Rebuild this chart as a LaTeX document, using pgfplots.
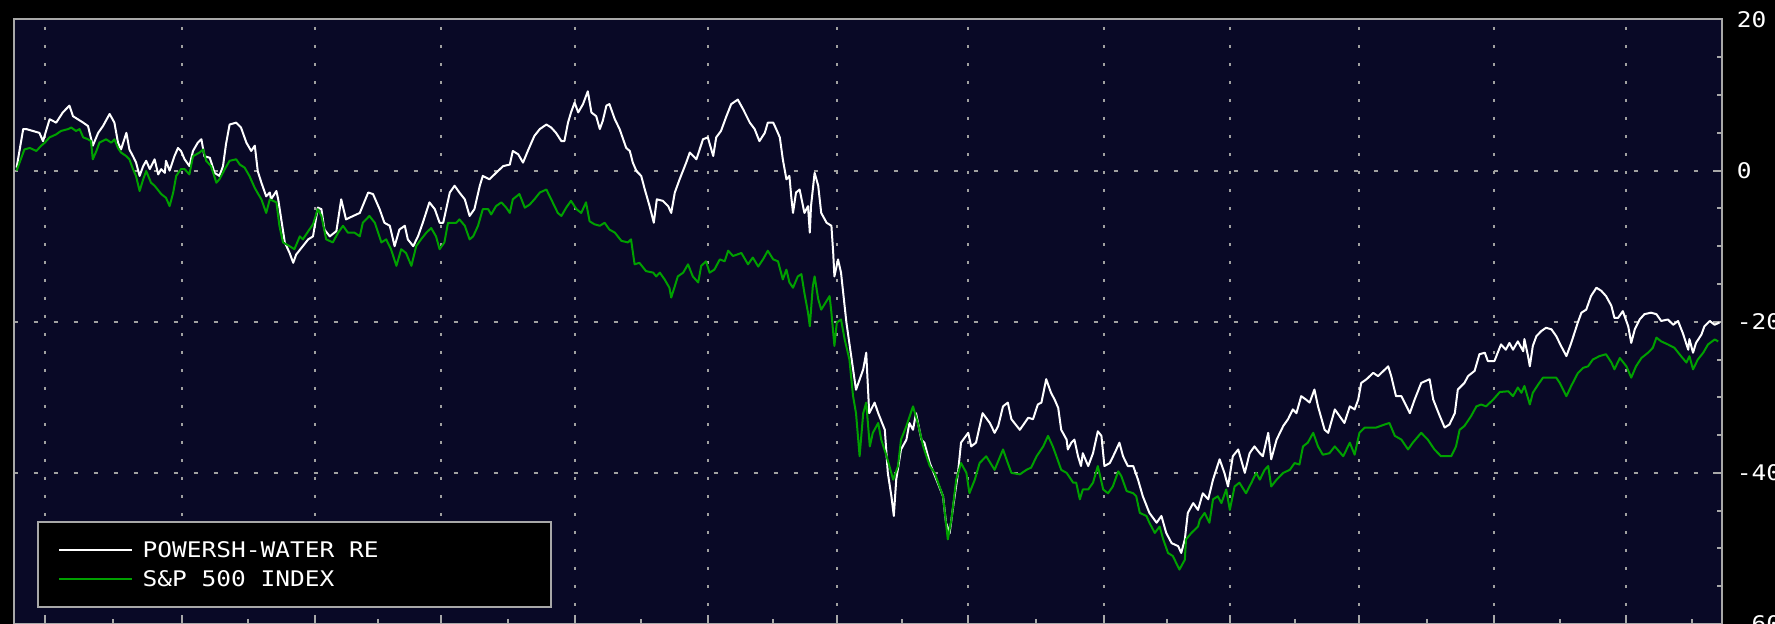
\documentclass[border=0pt]{standalone}
\usepackage{fontspec}
\usepackage{pgfplots}
\usepackage{pgfplotstable}
\pgfplotsset{compat=1.18}

\newfontfamily\chartfont[FakeStretch=1.14]{DejaVu Sans Mono}
\newcommand\cf{\chartfont\fontsize{10.75}{13}\selectfont}

\definecolor{navy}{RGB}{9,9,38}
\definecolor{gridgray}{RGB}{160,160,160}
\definecolor{framegray}{RGB}{168,168,168}
\definecolor{spxgreen}{RGB}{0,160,0}

% day = trading day from the start, value = % change
\pgfplotstableread{
day value
0 0.4
1.1 5.5
1.6 5.5
3.8 5.0
4.4 3.9
5.5 6.8
6.6 6.35
7.7 7.7
8.8 8.6
9.4 7.2
10.2 6.8
11.1 6.35
11.9 5.9
12.7 3.3
13.6 5.0
14.4 5.9
15.5 7.5
16.3 6.35
16.9 3.7
17.4 2.8
18.3 5.0
18.8 2.8
19.4 1.9
19.9 1.1
20.5 -0.7
21.1 0.6
21.6 1.3
22.2 0.2
23.0 1.5
23.6 -0.5
24.1 0.2
24.7 -0.3
24.9 1.3
25.5 0.0
26.3 1.9
26.9 3.0
27.4 2.6
28.0 1.5
28.8 0.6
29.4 2.6
30.2 3.7
30.8 4.15
31.3 1.9
32.2 1.7
33.0 -0.3
33.8 -0.7
34.4 0.6
34.9 3.5
35.5 6.1
36.6 6.35
37.4 5.7
38.3 3.7
39.1 2.6
39.7 3.3
40.2 -0.1
40.8 -1.6
41.6 -3.4
42.2 -2.9
42.4 -3.8
43.3 -2.7
43.6 -3.8
44.7 -9.5
45.5 -10.9
46.1 -12.2
46.6 -11.1
47.7 -10.0
48.6 -9.1
49.4 -8.7
50.2 -4.9
50.8 -5.1
51.3 -7.8
52.2 -8.7
53.3 -8.0
54.1 -3.8
54.9 -6.45
56.1 -6.0
57.2 -5.6
58.6 -2.9
59.4 -3.1
60.5 -5.1
61.3 -6.9
62.2 -7.3
63.0 -10.0
63.8 -7.8
64.7 -7.3
65.2 -9.1
66.1 -10.0
66.9 -8.7
67.7 -6.9
68.8 -4.2
69.7 -5.1
70.5 -6.9
71.1 -6.9
72.2 -2.9
73.0 -2.0
73.8 -2.9
74.7 -3.8
75.5 -6.0
76.3 -5.1
77.2 -2.0
77.7 -0.7
78.8 -1.15
79.9 -0.3
81.1 0.6
82.2 0.8
82.7 2.6
83.6 2.16
84.4 1.06
85.2 2.6
85.8 3.7
86.3 4.6
87.2 5.5
88.3 6.1
89.1 5.7
89.9 5.0
90.8 3.9
91.3 3.9
91.9 6.35
92.4 7.7
93.0 9.0
93.6 7.7
94.4 8.8
95.2 10.5
95.8 7.7
96.6 7.2
97.2 5.5
97.7 6.6
98.3 8.6
98.8 8.8
99.7 6.8
100.5 5.5
101.6 3.0
102.2 2.6
102.7 1.06
103.3 -0.05
104.1 -0.7
104.7 -2.5
105.5 -4.7
106.2 -6.9
106.7 -3.8
107.7 -4.0
108.6 -4.7
109.1 -5.6
109.7 -2.9
110.5 -1.15
111.6 1.06
112.2 2.4
113.3 1.5
114.4 4.15
115.2 4.4
116.1 1.94
116.6 4.4
117.4 5.25
118.3 7.2
119.1 8.8
120.2 9.4
121.1 8.1
122.2 6.35
123.0 5.5
123.8 3.9
124.7 5.0
125.2 6.35
126.1 6.35
126.6 5.5
127.2 4.4
127.7 1.5
128.3 -1.15
128.8 -0.7
129.1 -3.4
129.4 -5.6
129.9 -2.9
130.5 -2.5
131.3 -5.6
131.9 -4.7
132.2 -8.2
132.4 -4.7
133.0 -0.3
133.6 -2.0
134.1 -5.6
135.0 -6.9
135.8 -7.3
136.1 -10.9
136.3 -14.0
136.9 -11.75
137.4 -13.5
138.0 -17.9
138.3 -20.1
139.0 -24.0
139.9 -29.0
141.1 -26.3
141.6 -24.1
142.1 -32.1
143.0 -30.7
143.6 -32.1
144.7 -34.3
145.2 -40.0
145.8 -43.1
146.2 -45.7
146.6 -40.9
147.4 -36.9
148.3 -35.6
148.8 -33.4
149.4 -34.3
149.9 -32.1
150.8 -35.6
151.3 -36.0
152.2 -38.7
153.3 -40.9
154.4 -43.1
154.9 -46.6
155.5 -48.0
156.1 -44.4
156.9 -40.0
157.4 -36.0
158.6 -34.7
159.1 -36.5
159.9 -36.0
161.0 -32.1
162.2 -33.4
163.0 -34.7
163.6 -33.8
164.4 -31.2
165.2 -30.7
165.8 -32.9
167.2 -34.3
168.0 -33.4
168.6 -32.7
169.4 -32.9
170.2 -30.95
170.8 -30.7
171.6 -27.6
172.4 -29.4
173.0 -30.3
173.6 -31.4
174.1 -34.3
175.0 -35.6
175.2 -36.9
175.8 -36.0
176.3 -35.6
176.9 -37.8
177.4 -39.1
177.7 -37.4
178.6 -39.1
179.4 -37.4
180.2 -34.5
180.8 -35.1
181.3 -39.1
182.2 -38.7
183.0 -37.4
183.8 -36.0
184.4 -37.8
185.2 -39.1
186.1 -39.1
186.9 -40.9
187.7 -43.1
188.8 -45.3
190.0 -46.6
190.8 -45.7
191.6 -47.95
192.5 -49.3
193.6 -49.7
194.1 -50.6
194.7 -48.8
195.2 -45.3
196.1 -44.0
196.9 -44.9
197.7 -42.7
198.6 -43.5
199.4 -40.9
200.5 -38.2
201.3 -40.0
201.9 -41.8
202.7 -37.8
203.6 -36.9
204.7 -40.0
205.5 -37.4
206.3 -36.5
207.2 -37.4
207.7 -37.8
208.6 -34.7
209.1 -38.2
210.0 -35.6
211.1 -33.8
211.9 -32.9
212.7 -31.6
213.3 -32.1
214.1 -29.85
214.9 -30.3
215.5 -30.7
216.3 -28.97
216.9 -31.2
218.0 -34.3
218.6 -34.7
219.7 -31.6
220.5 -32.5
221.3 -33.4
222.2 -31.2
223.0 -31.6
223.6 -30.3
224.1 -28.1
225.0 -27.6
226.1 -26.76
226.9 -27.2
228.6 -25.9
229.1 -27.2
229.9 -29.85
230.8 -29.85
232.2 -32.1
233.0 -30.3
234.1 -28.1
235.5 -27.6
236.1 -30.3
237.2 -32.5
238.0 -34.0
238.8 -33.6
239.7 -32.1
240.2 -28.97
241.3 -28.1
241.9 -27.2
243.0 -26.5
243.8 -24.3
244.7 -24.1
245.2 -25.2
246.3 -25.2
247.4 -23.0
248.2 -23.7
248.8 -22.8
249.4 -23.7
250.2 -22.6
251.1 -23.9
251.3 -22.3
251.9 -24.55
252.2 -25.9
252.7 -23.2
253.3 -21.9
254.1 -21.24
254.9 -20.8
255.8 -21.0
256.6 -21.9
257.4 -23.2
258.3 -24.55
259.1 -22.8
260.2 -20.1
260.8 -18.8
261.6 -18.4
262.4 -16.6
263.3 -15.5
264.1 -15.9
264.9 -16.6
265.8 -17.9
266.3 -19.5
266.9 -19.5
267.7 -18.6
268.6 -20.6
269.1 -22.8
269.7 -21.0
270.5 -19.7
271.3 -19.0
272.4 -18.8
273.3 -19.0
274.1 -19.9
275.2 -19.7
276.1 -20.4
276.9 -19.9
277.7 -21.5
278.6 -23.7
278.8 -22.3
279.4 -24.1
279.9 -22.8
280.8 -21.7
281.3 -20.6
282.2 -19.9
283.0 -20.4
283.8 -20.1
}\water

\pgfplotstableread{
day value
0 0.0
1.3 2.8
2.2 3.0
3.3 2.6
4.1 3.3
4.7 3.7
5.5 4.4
6.6 4.8
7.4 5.25
8.6 5.5
9.1 5.7
9.9 5.25
10.5 5.5
11.1 4.4
11.9 4.15
12.4 3.9
12.7 1.5
13.3 2.6
13.8 3.7
14.9 4.15
15.8 3.7
16.3 4.15
16.9 3.0
17.4 2.4
18.3 1.9
18.8 1.5
19.4 0.2
19.9 -0.7
20.5 -2.7
21.1 -1.15
21.6 -0.05
22.4 -1.6
23.0 -2.0
24.1 -3.1
24.9 -3.6
25.5 -4.7
26.1 -2.9
26.6 -0.7
27.4 0.2
28.0 0.2
28.8 -0.5
29.4 1.9
30.5 2.4
31.1 2.8
31.6 1.3
32.4 0.6
33.3 -1.6
33.8 -1.15
34.7 0.2
35.5 1.3
36.6 1.5
37.2 0.8
38.0 0.4
38.8 -0.7
39.7 -2.3
40.2 -3.0
40.8 -3.8
41.6 -5.6
42.2 -3.8
43.3 -4.2
43.8 -7.3
44.4 -9.5
45.5 -10.0
46.3 -10.4
47.2 -8.7
47.7 -9.1
48.8 -7.8
49.4 -7.1
50.2 -5.1
50.8 -6.0
51.6 -9.1
52.7 -9.5
53.6 -8.2
54.4 -7.3
55.2 -8.2
56.3 -8.2
57.2 -8.7
57.7 -6.9
58.8 -6.0
59.7 -6.9
60.8 -9.5
61.6 -9.1
62.4 -10.4
63.3 -12.6
64.1 -10.4
64.9 -10.9
65.8 -12.6
66.6 -10.0
67.4 -9.1
68.3 -8.2
69.1 -7.6
69.9 -8.7
70.5 -10.4
71.3 -9.5
71.9 -6.9
73.3 -6.9
73.8 -6.45
74.7 -7.3
75.5 -9.1
76.1 -8.7
76.9 -7.3
77.7 -5.1
78.6 -5.1
79.1 -5.8
79.9 -4.7
80.8 -4.2
81.6 -4.9
82.2 -5.6
82.7 -3.8
83.8 -3.1
84.7 -4.9
85.5 -4.5
86.3 -3.8
87.2 -2.9
88.3 -2.5
89.1 -3.8
90.2 -5.6
90.8 -6.0
91.6 -4.9
92.4 -4.0
93.3 -5.1
94.1 -5.6
94.9 -4.2
95.5 -6.7
96.3 -7.1
97.2 -7.3
98.0 -6.9
98.8 -7.8
99.7 -8.2
100.8 -9.3
101.9 -9.5
102.4 -9.1
103.0 -12.4
103.8 -12.2
104.9 -13.3
106.1 -13.5
106.6 -14.0
107.2 -13.5
108.0 -14.4
108.8 -15.5
109.1 -16.8
109.7 -15.3
110.2 -14.0
111.1 -13.5
111.9 -12.4
112.7 -14.0
113.6 -14.8
114.1 -12.6
114.9 -12.0
115.5 -13.5
116.3 -13.1
117.2 -11.75
118.0 -12.0
118.6 -10.6
119.4 -11.3
120.8 -10.9
121.9 -12.4
122.7 -11.5
123.6 -12.7
124.4 -11.75
125.2 -10.6
126.1 -11.75
126.9 -12.0
127.7 -14.4
128.3 -13.1
128.8 -14.8
129.4 -15.5
130.2 -14.0
130.8 -13.7
131.3 -16.2
131.6 -17.5
131.9 -18.8
132.2 -20.6
132.7 -15.3
133.0 -14.0
133.6 -17.0
134.1 -18.4
135.5 -16.6
135.8 -18.8
136.3 -23.2
136.7 -20.1
137.4 -19.7
138.0 -22.3
138.8 -25.0
139.4 -29.8
139.9 -32.1
140.5 -37.8
141.1 -32.1
141.6 -30.7
142.2 -36.5
142.7 -34.7
143.6 -33.4
144.1 -35.6
145.0 -37.8
146.1 -40.9
146.9 -39.1
147.4 -35.6
148.3 -33.8
149.4 -31.2
150.2 -33.4
151.1 -36.5
152.2 -39.1
153.0 -40.0
154.4 -43.1
155.2 -48.8
155.8 -46.2
156.6 -40.9
157.4 -38.7
158.3 -40.0
158.8 -42.7
159.7 -40.9
160.5 -38.7
161.6 -37.8
163.0 -39.6
164.4 -36.9
165.2 -38.7
165.8 -40.0
167.2 -40.2
168.3 -39.6
169.1 -39.3
170.0 -37.8
171.1 -36.5
171.9 -35.1
172.7 -36.5
173.3 -37.8
174.1 -39.6
175.0 -40.0
176.1 -41.3
176.6 -41.3
177.2 -43.5
177.7 -42.2
178.6 -42.2
179.4 -41.3
180.2 -39.1
181.1 -42.2
181.9 -42.7
182.7 -41.8
183.6 -39.8
184.1 -40.4
185.0 -42.4
186.1 -42.7
186.6 -43.1
187.2 -45.3
188.3 -45.7
188.8 -46.6
189.7 -47.95
190.5 -47.1
191.1 -48.8
191.9 -50.6
192.7 -51.0
193.8 -52.8
194.7 -51.5
194.9 -48.8
195.8 -47.95
196.9 -47.1
197.2 -46.2
198.0 -45.3
198.8 -46.6
199.4 -43.5
200.2 -43.1
200.8 -44.0
201.6 -42.2
202.2 -44.9
203.0 -41.8
203.8 -41.3
204.9 -42.7
205.8 -41.3
206.6 -40.0
207.2 -40.9
208.0 -39.6
208.6 -39.1
209.1 -41.8
210.0 -40.9
211.1 -40.0
212.2 -39.6
213.0 -38.7
213.8 -38.9
214.4 -36.5
215.2 -36.0
216.1 -34.7
216.9 -36.5
217.7 -37.6
218.8 -37.4
219.7 -36.5
221.1 -37.8
222.2 -36.0
223.0 -37.6
223.8 -34.7
224.7 -34.0
226.6 -34.0
228.0 -33.6
228.8 -33.4
229.7 -35.1
230.8 -35.6
231.9 -36.9
232.7 -36.0
234.1 -34.7
235.2 -35.6
236.3 -36.9
237.4 -37.8
239.1 -37.8
239.9 -36.5
240.5 -34.3
241.3 -33.8
242.4 -32.5
243.3 -31.2
244.1 -30.95
244.9 -31.2
246.1 -30.3
247.2 -29.3
248.6 -29.2
249.4 -29.85
250.2 -28.7
250.8 -29.4
251.3 -28.5
252.2 -30.95
252.7 -29.4
253.6 -28.3
254.4 -27.4
256.6 -27.4
257.2 -28.1
258.3 -29.85
259.1 -28.5
260.2 -26.8
261.1 -26.1
261.9 -25.9
262.7 -25.0
263.8 -24.55
264.9 -24.3
265.8 -25.4
266.3 -26.3
267.2 -24.8
268.3 -25.9
269.1 -27.4
269.9 -25.9
270.8 -24.8
271.9 -24.1
272.7 -23.45
273.3 -22.1
274.1 -22.6
275.2 -23.0
276.3 -23.45
277.4 -24.55
278.3 -25.4
278.8 -24.55
279.4 -26.3
280.2 -25.0
281.1 -24.1
281.9 -23.0
283.0 -22.35
283.6 -22.6
}\spx

\begin{document}
\begin{tikzpicture}
\fill[black] (0,0) rectangle (887.5pt,312pt);
\begin{axis}[
    at={(6.8pt,0pt)}, anchor=south west,
    scale only axis,
    width=854.4pt, height=302.25pt,
    xmin=-0.5, xmax=284.3,
    ymin=-60, ymax=20,
    axis background/.style={fill=navy},
    axis line style={draw=framegray, line width=1pt},
    xtick={4.8,27.5,49.7,70.8,93.0,115.3,136.7,158.6,181.2,202.3,223.7,246.3,268.2},
    minor xtick={16.1,38.6,60.2,81.9,104.1,126.0,147.6,169.9,191.7,213.0,235.0,257.2,279.2},
    xticklabel=\empty,
    ytick={-60,-40,-20,0,20},
    minor ytick={-55,-50,-45,-35,-30,-25,-15,-10,-5,5,10,15},
    yticklabels={-60,-40,-20,0,20},
    xtick pos=left, ytick pos=right,
    yticklabel pos=right,
    tick align=inside,
    major tick length=4.5pt, minor tick length=2.5pt,
    tick style={framegray, line width=1pt},
    xmajorgrids, ymajorgrids,
    major x grid style={gridgray, line width=1pt, dash pattern=on 1.4pt off 7.6pt},
    major y grid style={gridgray, line width=1pt, dash pattern=on 2pt off 8pt},
    yticklabel style={font=\cf, text=white, inner sep=0pt, xshift=7pt},
    legend cell align=left,
    legend style={
        at={(0.0139,0.0265)}, anchor=south west,
        fill=black, draw=framegray, line width=1pt,
        font=\cf, text=white,
        inner xsep=10pt, inner ysep=7.4pt,
        row sep=1.35pt,
        nodes={inner sep=0pt, text height=10.5pt, text depth=2.65pt},
    },
    legend image code/.code={\draw[#1, line width=1pt] (0pt,0pt) -- (36.5pt,0pt);},
]
\addplot[white, line width=1pt, line join=round] table[x=day, y=value] {\water};
\addlegendentry{\hspace{4.65pt}\makebox[194pt][l]{POWERSH-WATER RE}}
\addplot[spxgreen, line width=1pt, line join=round] table[x=day, y=value] {\spx};
\addlegendentry{\hspace{4.65pt}\makebox[194pt][l]{S\&P 500 INDEX}}
\end{axis}
\pgfresetboundingbox
\path[use as bounding box] (0,0) rectangle (887.5pt,312pt);
\end{tikzpicture}
\end{document}
